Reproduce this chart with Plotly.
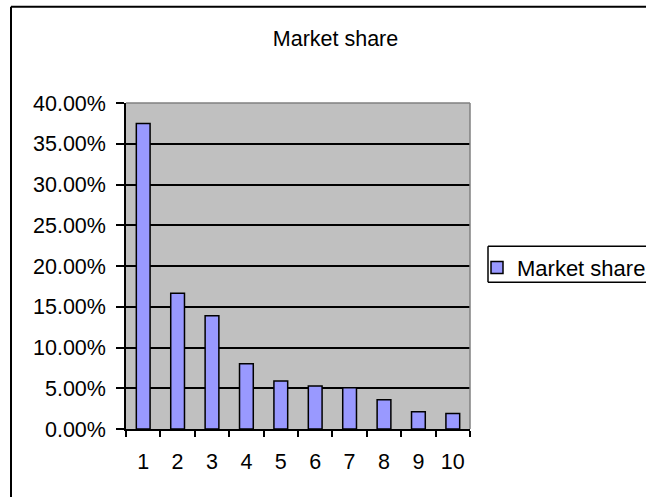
import plotly.graph_objects as go

categories = ["1", "2", "3", "4", "5", "6", "7", "8", "9", "10"]
market_share = [0.375, 0.1667, 0.139, 0.080, 0.0588, 0.0527, 0.0506, 0.0359, 0.0212, 0.019]
series_name = "Market share"
chart_title = "Market share"

W, H = 646, 497
L, R, T, B = 126, 470, 102.5, 429
pw, ph = R - L, B - T

def px(x):
    return (x - L) / pw

def py(y):
    return (B - y) / ph

FONT = "Liberation Sans, Arial, sans-serif"
FS = 21.5

fig = go.Figure()
fig.add_trace(go.Bar(
    x=categories, y=market_share, name=series_name,
    marker=dict(color="#9999FF", line=dict(color="black", width=1.5)),
    showlegend=True,
))

box_line = dict(color="black", width=1.5)

fig.update_layout(
    width=W, height=H,
    margin=dict(l=L, r=W - R, t=T, b=H - B, autoexpand=False),
    paper_bgcolor="white",
    plot_bgcolor="#C0C0C0",
    bargap=0.6,
    font=dict(family=FONT, size=FS, color="black"),
    title=dict(text=chart_title, x=335.5 / W, xanchor="center",
               y=1 - 38 / H, yanchor="middle",
               font=dict(family=FONT, size=FS, color="black")),
    showlegend=True,
    legend=dict(x=px(477), y=py(246.5), xanchor="left", yanchor="top",
                borderwidth=0, bgcolor="rgba(0,0,0,0)",
                font=dict(family=FONT, size=22, color="black"),
                itemwidth=30, tracegroupgap=0),
    xaxis=dict(type="category", tickson="boundaries", ticks="outside",
               ticklen=6, tickwidth=1.5, tickcolor="black",
               showline=True, linecolor="black", linewidth=1.5,
               showgrid=False, tickfont=dict(size=FS, color="black"),
               ticklabelstandoff=12, fixedrange=True),
    yaxis=dict(range=[0, 0.4], dtick=0.05, tickformat=".2%",
               ticks="outside", ticklen=8, tickwidth=1.5, tickcolor="black",
               showline=True, linecolor="black", linewidth=1.5,
               showgrid=True, gridcolor="black", gridwidth=1.5,
               zeroline=False, tickfont=dict(size=FS, color="black"),
               ticklabelstandoff=6, fixedrange=True),
    shapes=[
        # outer chart frame: left and top edges (the rest is off the page)
        dict(type="line", xref="paper", yref="paper",
             x0=px(11), y0=py(6), x1=px(11), y1=py(560),
             line=dict(color="black", width=2), layer="below"),
        dict(type="line", xref="paper", yref="paper",
             x0=px(11), y0=py(6), x1=px(700), y1=py(6),
             line=dict(color="black", width=2), layer="below"),
        # legend box: left, top and bottom edges (right edge is off the page)
        dict(type="line", xref="paper", yref="paper",
             x0=px(488), y0=py(246), x1=px(488), y1=py(282),
             line=box_line, layer="below"),
        dict(type="line", xref="paper", yref="paper",
             x0=px(488), y0=py(246), x1=px(700), y1=py(246),
             line=box_line, layer="below"),
        dict(type="line", xref="paper", yref="paper",
             x0=px(488), y0=py(282), x1=px(700), y1=py(282),
             line=box_line, layer="below"),
        # plot area border top/right (grey)
        dict(type="line", xref="paper", yref="paper",
             x0=0, y0=1, x1=1, y1=1,
             line=dict(color="#808080", width=1.5), layer="above"),
        dict(type="line", xref="paper", yref="paper",
             x0=1, y0=0, x1=1, y1=1,
             line=dict(color="#808080", width=1.5), layer="above"),
    ],
)

fig.write_html("out.html",
               config={"displayModeBar": False},
               post_script="document.body.style.margin='0px';document.body.style.overflow='hidden';")
